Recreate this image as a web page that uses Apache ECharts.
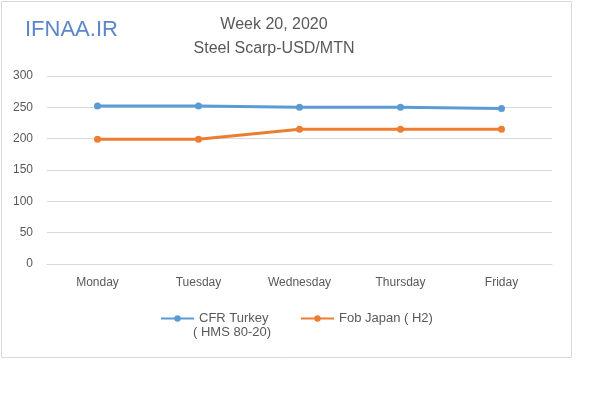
<!DOCTYPE html>
<html><head><meta charset="utf-8">
<script src="https://cdn.jsdelivr.net/npm/echarts@6/dist/echarts.min.js"></script>
<style>html,body{margin:0;padding:0;background:#fff}#c{width:600px;height:395px}</style>
</head><body><div id="c"></div>
<script>
const categories = ['Monday','Tuesday','Wednesday','Thursday','Friday'];
const cfrTurkey = [252, 252, 250, 250, 248];
const fobJapan = [199, 199, 215, 215, 215];
const seriesNames = ['CFR Turkey\n( HMS 80-20)', 'Fob Japan ( H2)'];
const yTicks = {min: 0, max: 300, interval: 50};

const font = 'Liberation Sans';
const legendText = {fontFamily: font, fontSize: 13, color: '#595959'};
const chart = echarts.init(document.getElementById('c'));
chart.setOption({
  animation: false,
  textStyle: {fontFamily: font},
  graphic: [
    {type: 'rect', shape: {x: 1.5, y: 1.5, width: 570, height: 356}, style: {fill: 'none', stroke: '#d9d9d9', lineWidth: 1}, z: 0},
    {type: 'text', left: 25, top: 19, style: {text: 'IFNAA.IR', fill: '#5b86c8', font: '22px "Liberation Sans"', shadowColor: 'rgba(0,0,0,0.35)', shadowOffsetX: 1, shadowOffsetY: 2, shadowBlur: 2}},
    {type: 'text', left: 193, top: 326, style: {text: seriesNames[0].split('\n')[1], fill: '#595959', font: '13px "Liberation Sans"'}}
  ],
  title: {
    text: 'Week 20, 2020\nSteel Scarp-USD/MTN',
    left: 269, top: 8, textAlign: 'center',
    textStyle: {fontFamily: font, fontSize: 16, fontWeight: 'normal', color: '#595959', lineHeight: 24}
  },
  grid: {left: 47, right: 48, top: 76, bottom: 131, containLabel: false},
  legend: [
    {top: 307, left: 155, itemWidth: 33, itemHeight: 8, itemGap: 0, textStyle: legendText,
     formatter: n => n.split('\n')[0], data: [seriesNames[0]]},
    {top: 307, left: 295, itemWidth: 33, itemHeight: 8, itemGap: 0, textStyle: legendText,
     data: [seriesNames[1]]}
  ],
  xAxis: {
    type: 'category', data: categories, boundaryGap: true,
    axisLine: {lineStyle: {color: '#d9d9d9'}}, axisTick: {show: false},
    axisLabel: {color: '#595959', fontSize: 12, fontFamily: font, margin: 13}
  },
  yAxis: {
    type: 'value', min: yTicks.min, max: yTicks.max, interval: yTicks.interval,
    axisLine: {show: false}, axisTick: {show: false},
    axisLabel: {color: '#595959', fontSize: 12, fontFamily: font, margin: 14},
    splitLine: {lineStyle: {color: '#d9d9d9'}}
  },
  series: [
    {name: seriesNames[0], type: 'line', data: cfrTurkey, symbol: 'circle', symbolSize: 7,
     itemStyle: {color: '#5b9bd5'}, lineStyle: {width: 3, color: '#5b9bd5'}},
    {name: seriesNames[1], type: 'line', data: fobJapan, symbol: 'circle', symbolSize: 7,
     itemStyle: {color: '#ed7d31'}, lineStyle: {width: 3, color: '#ed7d31'}}
  ]
});
</script></body></html>
